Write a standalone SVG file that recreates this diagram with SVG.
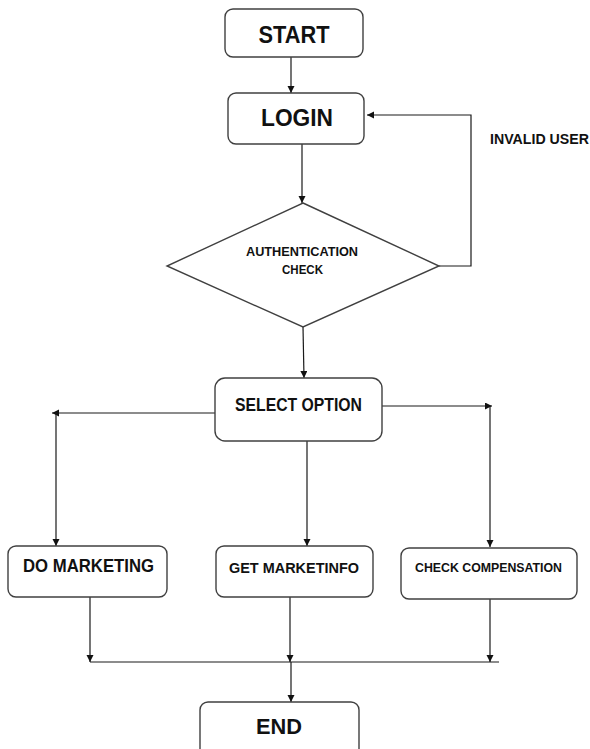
<svg xmlns="http://www.w3.org/2000/svg" width="590" height="749" viewBox="0 0 590 749">
<defs>
<style>
.box{fill:#fff;stroke:#404040;stroke-width:1.4}
.ln{fill:none;stroke:#1a1a1a;stroke-width:1.2}
.t{font-family:"Liberation Sans",Arial,sans-serif;font-weight:bold;fill:#111;text-anchor:middle}
</style>
<marker id="ah" markerUnits="userSpaceOnUse" markerWidth="8" markerHeight="8" refX="7" refY="3.5" orient="auto">
<path d="M0,0 L7,3.5 L0,7 z" fill="#111"/>
</marker>
</defs>
<rect width="590" height="749" fill="#fff"/>
<g id="connectors">
<path class="ln" d="M291,57 V93" marker-end="url(#ah)"/>
<path class="ln" d="M302,144 V203" marker-end="url(#ah)"/>
<path class="ln" d="M439,266 H471 V115 H367" marker-end="url(#ah)"/>
<path class="ln" d="M303,327 L304,378" marker-end="url(#ah)"/>
<path class="ln" d="M215,413 H52" marker-end="url(#ah)"/>
<path class="ln" d="M56,413 V546" marker-end="url(#ah)"/>
<path class="ln" d="M382,406 H492" marker-end="url(#ah)"/>
<path class="ln" d="M490,406 V547" marker-end="url(#ah)"/>
<path class="ln" d="M307,441 V546" marker-end="url(#ah)"/>
<path class="ln" d="M90,597 V662" marker-end="url(#ah)"/>
<path class="ln" d="M290,597 V662" marker-end="url(#ah)"/>
<path class="ln" d="M490,599 V662" marker-end="url(#ah)"/>
<path class="ln" d="M90,662 H499"/>
<path class="ln" d="M291,662 V702" marker-end="url(#ah)"/>
</g>
<g id="start">
<rect class="box" x="225" y="9" width="138" height="48" rx="8"/>
<text class="t" x="294" y="43" font-size="24" textLength="71" lengthAdjust="spacingAndGlyphs">START</text>
</g>
<g id="login">
<rect class="box" x="228" y="93" width="136" height="51" rx="8"/>
<text class="t" x="297" y="126" font-size="24" textLength="72" lengthAdjust="spacingAndGlyphs">LOGIN</text>
</g>
<g id="auth">
<polygon class="box" points="303,203 439,266 303,327 167,266"/>
<text class="t" x="302" y="256" font-size="13" textLength="112" lengthAdjust="spacingAndGlyphs">AUTHENTICATION</text>
<text class="t" x="302.5" y="274" font-size="13" textLength="41" lengthAdjust="spacingAndGlyphs">CHECK</text>
</g>
<g id="invalid-label">
<text class="t" x="490" y="144" font-size="14" text-anchor="start" style="text-anchor:start" textLength="99" lengthAdjust="spacingAndGlyphs">INVALID USER</text>
</g>
<g id="select">
<rect class="box" x="215" y="378" width="167" height="63" rx="10"/>
<text class="t" x="298.5" y="411" font-size="18" textLength="127" lengthAdjust="spacingAndGlyphs">SELECT OPTION</text>
</g>
<g id="marketing">
<rect class="box" x="8" y="546" width="159" height="51" rx="8"/>
<text class="t" x="88.5" y="572" font-size="18" textLength="131" lengthAdjust="spacingAndGlyphs">DO MARKETING</text>
</g>
<g id="marketinfo">
<rect class="box" x="216" y="546" width="157" height="51" rx="8"/>
<text class="t" x="294" y="573" font-size="15" textLength="130" lengthAdjust="spacingAndGlyphs">GET MARKETINFO</text>
</g>
<g id="compensation">
<rect class="box" x="401" y="548" width="176" height="51" rx="8"/>
<text class="t" x="488.5" y="572" font-size="13" textLength="147" lengthAdjust="spacingAndGlyphs">CHECK COMPENSATION</text>
</g>
<g id="end">
<rect class="box" x="200" y="702" width="159" height="60" rx="8"/>
<text class="t" x="279" y="734" font-size="22" textLength="46" lengthAdjust="spacingAndGlyphs">END</text>
</g>
</svg>
